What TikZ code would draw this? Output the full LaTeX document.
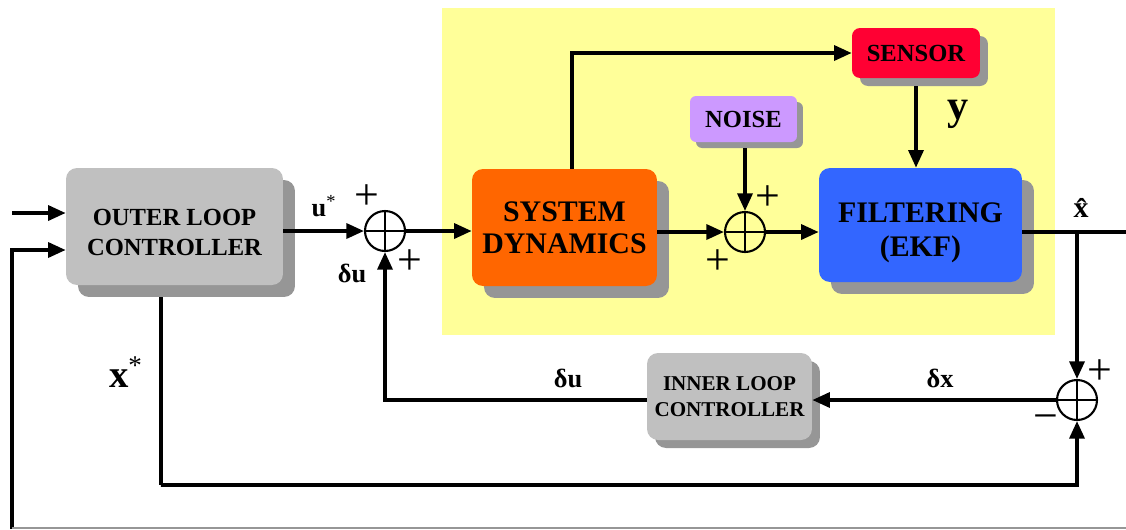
\documentclass[tikz,border=0pt]{standalone}
\usepackage{fontspec}
\setmainfont{Liberation Serif}
\usepackage{tikz}
\usepackage{xcolor}
\definecolor{loopgray}{RGB}{192, 192, 192}
\definecolor{shadegray}{RGB}{150, 150, 150}
\definecolor{plantorange}{RGB}{255, 102, 0}
\definecolor{filterblue}{RGB}{51, 102, 255}
\definecolor{sensorred}{RGB}{255, 0, 51}
\definecolor{noiselilac}{RGB}{204, 153, 255}
\definecolor{zoneyellow}{RGB}{255, 255, 153}
\usetikzlibrary{shadows,arrows.meta,positioning}

\tikzset{
    block/.style={rectangle, rounded corners=0.22cm, align=center, font=\bfseries,
        drop shadow={shadow xshift=#1, shadow yshift=-#1, fill=shadegray, opacity=1}},
    sumnode/.style={circle, draw, line width=1.2pt, minimum size=0.8cm, inner sep=0pt,
        path picture={\draw[line width=0.7pt]
            (path picture bounding box.north) -- (path picture bounding box.south)
            (path picture bounding box.west) -- (path picture bounding box.east);}},
    arr/.style={line width=2pt, -{Triangle[length=10pt,width=8.5pt]}},
    wire/.style={line width=2pt},
    sign/.style={font=\fontsize{25}{25}\selectfont},
    lbl/.style={font=\fontsize{15}{15}\selectfont\bfseries}
}

\begin{document}
\begin{tikzpicture}[x=0.02cm, y=-0.02cm]
    \useasboundingbox (0,0) rectangle (1126,529);

    % Estimator region
    \fill[zoneyellow] (442,8) rectangle (1055,335);

    % Blocks
    \node[block=0.24cm, fill=loopgray, minimum width=4.34cm, minimum height=2.34cm,
        font=\fontsize{14}{17.5}\selectfont\bfseries] (outer) at (174.5,226.5) {\rule{0pt}{16pt}OUTER LOOP\\CONTROLLER};
    \node[block=0.24cm, fill=plantorange, minimum width=3.7cm, minimum height=2.34cm,
        font=\fontsize{17}{18}\selectfont\bfseries] (sys) at (564.5,227.5) {SYSTEM\\DYNAMICS};
    \node[block=0.24cm, fill=filterblue, minimum width=4.06cm, minimum height=2.28cm,
        font=\fontsize{17}{19.5}\selectfont\bfseries] (filter) at (920.5,225) {\rule{0pt}{20pt}FILTERING\\(EKF)};
    \node[block=0.16cm, fill=sensorred, rounded corners=0.16cm, minimum width=2.56cm, minimum height=1cm,
        font=\fontsize{14}{16}\selectfont\bfseries] (sensor) at (916,53) {SENSOR};
    \node[block=0.12cm, fill=noiselilac, rounded corners=0.12cm, minimum width=2.14cm, minimum height=0.92cm,
        font=\fontsize{14}{16}\selectfont\bfseries] (noise) at (743.5,119) {NOISE};
    \node[block=0.16cm, fill=loopgray, minimum width=3.3cm, minimum height=1.74cm,
        font=\fontsize{12}{14.5}\selectfont\bfseries] (inner) at (729.5,396.5) {INNER LOOP\\CONTROLLER};

    % Summing junctions
    \node[sumnode] (s1) at (385,231) {};
    \node[sumnode] (s2) at (745,232) {};
    \node[sumnode] (s3) at (1077,400) {};

    % Free ends
    \coordinate (in1) at (12,213);
    \coordinate (fbl) at (12,529);
    \coordinate (br) at (1077,232);
    \coordinate (xout) at (1126,232);
    \coordinate (xs) at (161,485);

    % Forward path
    \draw[arr] (in1) -- (in1 -| outer.west);
    \draw[arr] (fbl) |- ([yshift=-0.47cm]outer.west);
    \draw[arr] (outer.east |- s1) -- (s1.west);
    \draw[arr] (s1.east) -- (s1.east -| sys.west);
    \draw[arr] (sys.east |- s2) -- (s2.west);
    \draw[arr] (s2.east) -- (s2.east -| filter.west);
    \draw[arr] ([xshift=0.15cm]sys.north) |- (sensor.west);
    \draw[arr] ([yshift=-0.16cm]sensor.south) -- (sensor.south |- filter.north);
    \draw[arr] ([yshift=-0.12cm]noise.south -| s2) -- (s2.north);
    \draw[wire] (filter.east |- br) -- (xout);

    % Feedback paths
    \draw[arr] (br) -- (s3.north);
    \draw[arr] (s3.west) -- (s3.west -| inner.east);
    \draw[arr] (inner.west |- s3.west) -| (s1.south);
    \draw[arr] ([xshift=-0.27cm,yshift=-0.24cm]outer.south) |- (xs) -| (s3.south);
    \draw[shadegray, line width=0.8pt] (12,528) -- (1126,528);

    % Signal labels
    \node[lbl] (lus) at (324,206) {u\textsuperscript{\mdseries *}};
    \node[lbl] (ldu1) at (352,273) {δu};
    \node[lbl, font=\fontsize{24}{24}\selectfont\bfseries] (ly) at (958,114) {y};
    \node[lbl, font=\fontsize{17}{17}\selectfont\bfseries] (lxh) at (1081,208) {\^{x}};
    \node[lbl, font=\fontsize{22}{22}\selectfont\bfseries] (lxs) at (126,372) {x\textsuperscript{\mdseries *}};
    \node[lbl] (ldu2) at (568,378) {δu};
    \node[lbl] (ldx) at (940,378) {δx};

    % Signs
    \node[sign] (p1a) at (367,197) {+};
    \node[sign] (p1b) at (410,262) {+};
    \node[sign] (p2a) at (768,198) {+};
    \node[sign] (p2b) at (718,262) {+};
    \node[sign] (p3a) at (1100,372) {+};
    \node[sign] (m3) at (1046,423) {−};
\end{tikzpicture}
\end{document}
